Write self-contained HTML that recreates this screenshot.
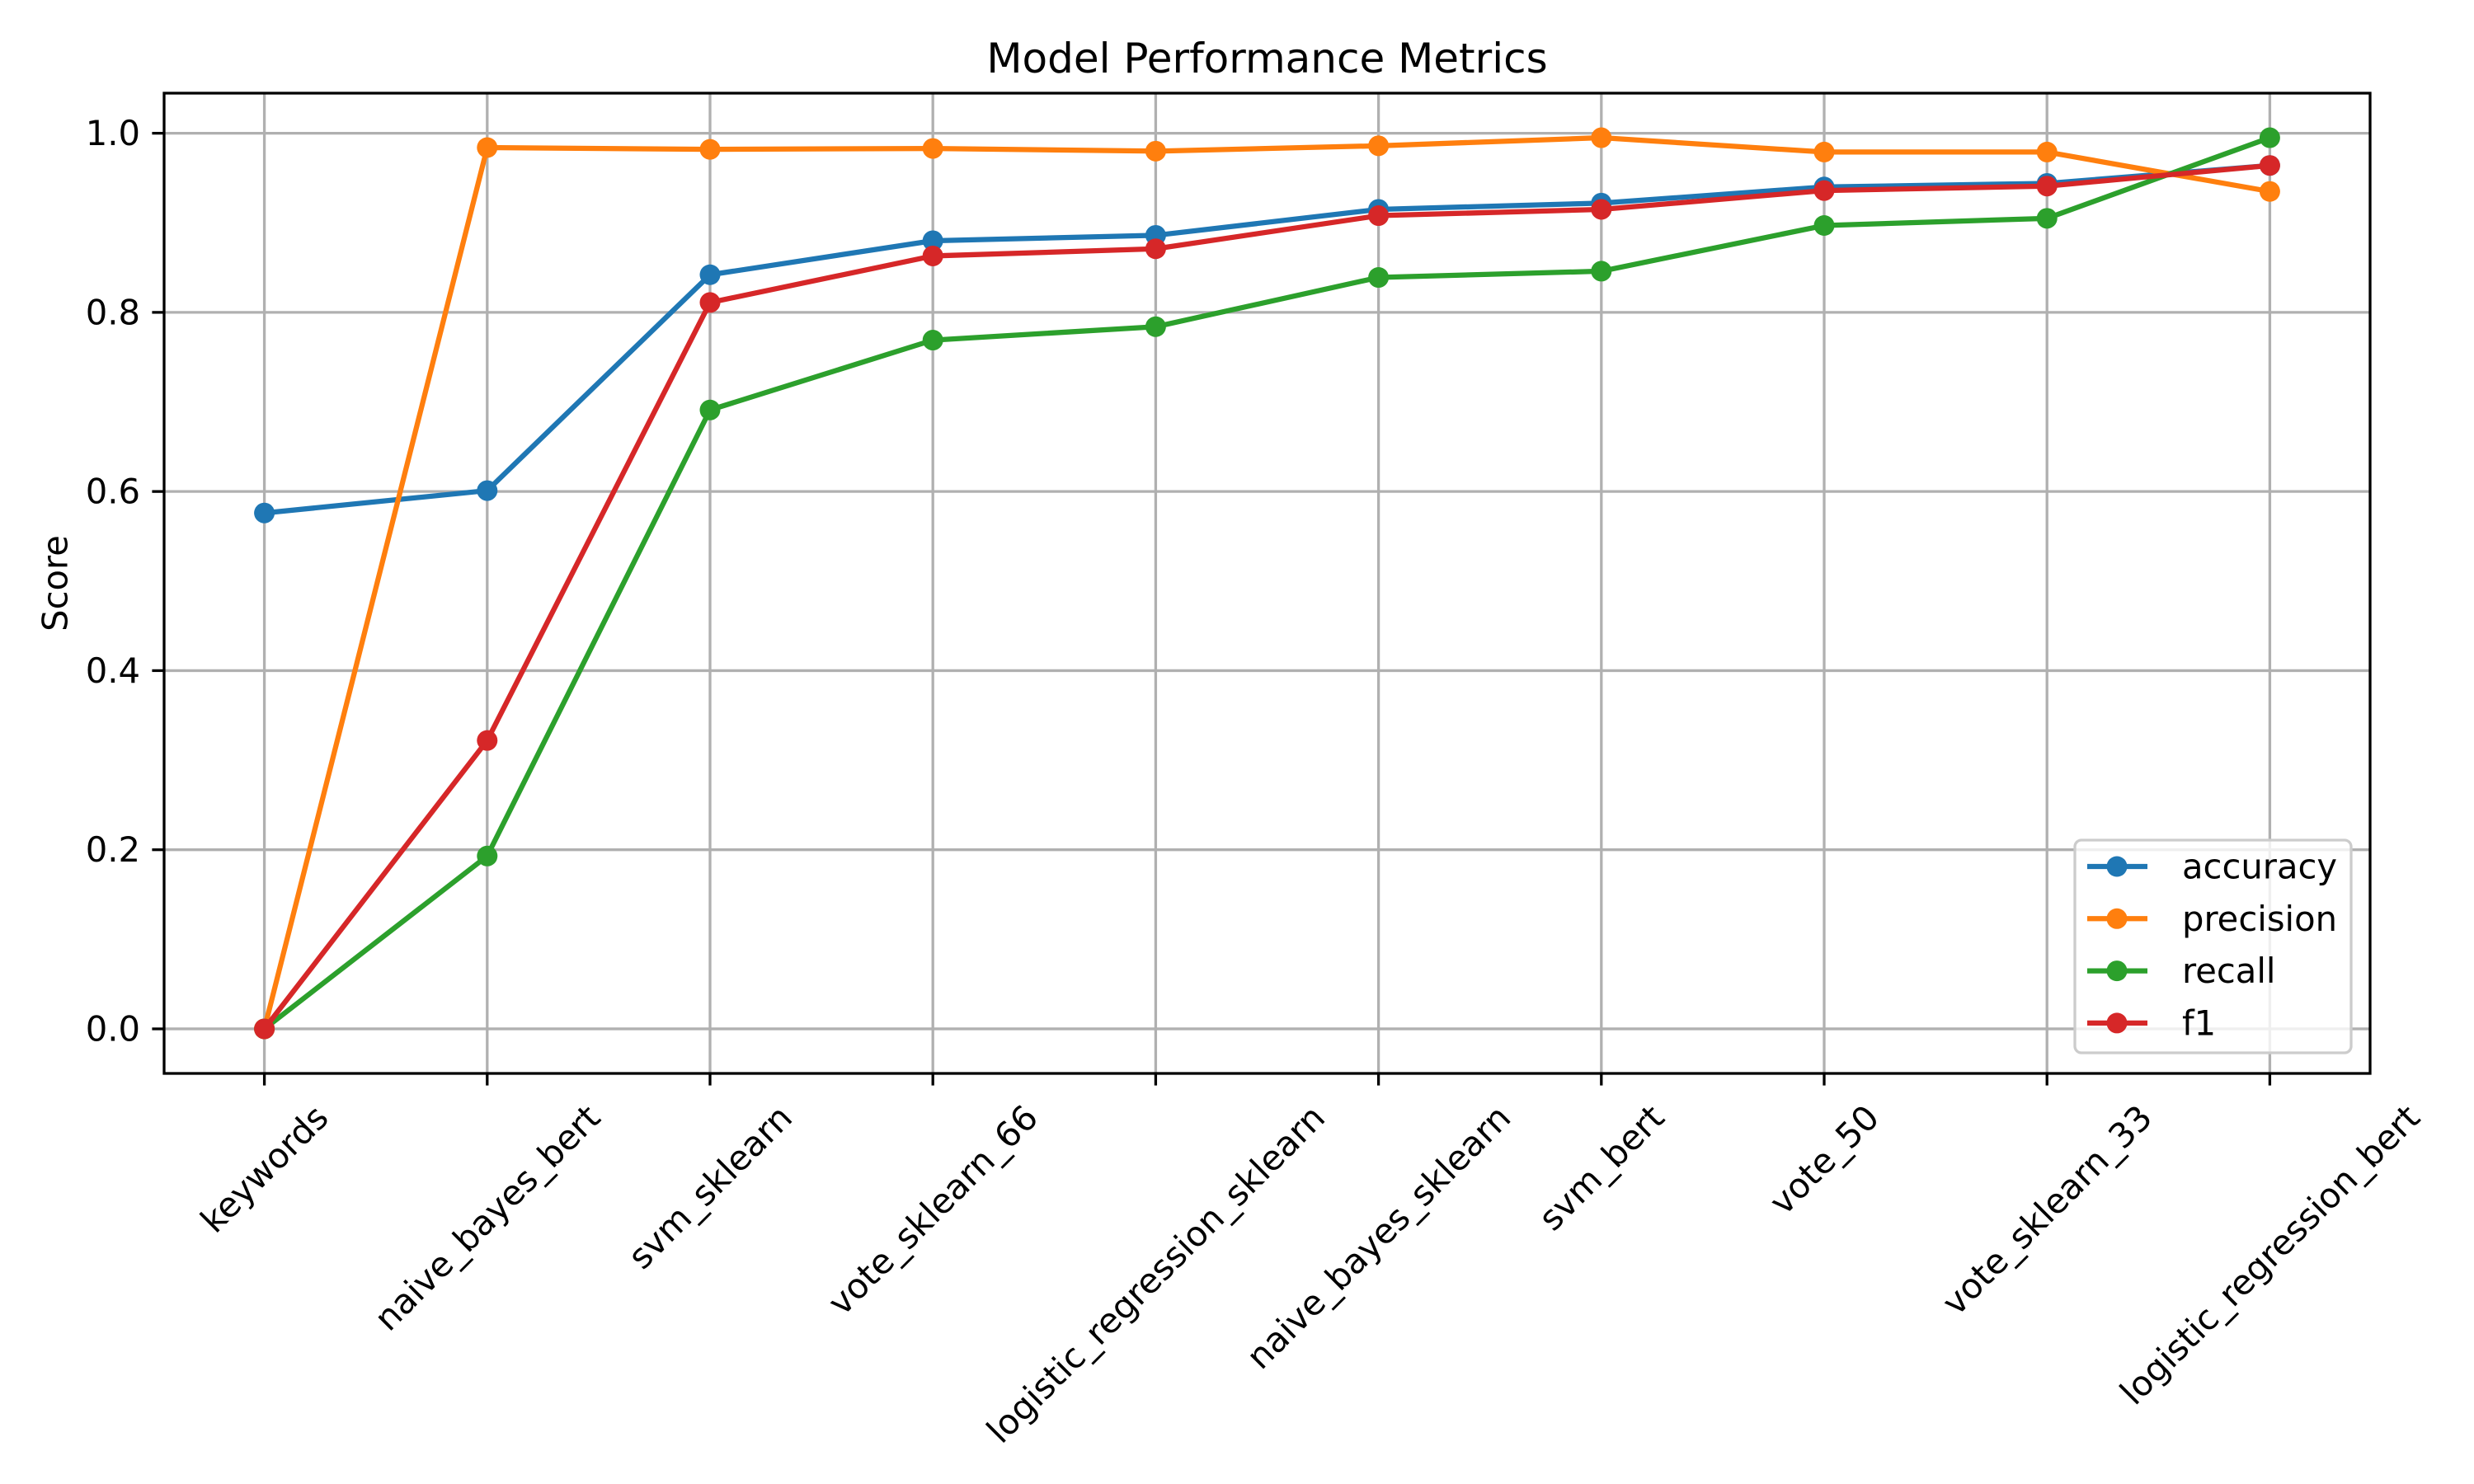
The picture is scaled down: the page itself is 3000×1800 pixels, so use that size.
<!DOCTYPE html>
<html><head><meta charset="utf-8"><style>
html,body{margin:0;padding:0;background:#fff;}
svg{display:block;font-family:"DejaVu Sans","Liberation Sans",sans-serif;}
</style></head><body>
<svg id="chart" width="3000" height="1800" viewBox="0 0 3000 1800" xmlns="http://www.w3.org/2000/svg">
<rect width="3000" height="1800" fill="#fff"/>
<g id="grid"></g><g id="series"></g><g id="axes"></g><g id="legend"></g>
</svg>
<script>
const categories = ["keywords","naive_bayes_bert","svm_sklearn","vote_sklearn_66","logistic_regression_sklearn","naive_bayes_sklearn","svm_bert","vote_50","vote_sklearn_33","logistic_regression_bert"];
const accuracy = [0.576,0.601,0.842,0.880,0.886,0.915,0.922,0.940,0.944,0.964];
const precision = [0,0.984,0.982,0.983,0.980,0.986,0.995,0.979,0.979,0.935];
const recall = [0,0.193,0.691,0.769,0.784,0.839,0.846,0.897,0.905,0.995];
const f1 = [0,0.322,0.811,0.863,0.871,0.908,0.915,0.936,0.941,0.964];
const seriesNames = ["accuracy","precision","recall","f1"];
const yTicks = [0.0,0.2,0.4,0.6,0.8,1.0];
const yTickLabels = ["0.0","0.2","0.4","0.6","0.8","1.0"];

const NS="http://www.w3.org/2000/svg";
const L=199,R=2874,T=113,B=1302;
const YMIN=-0.04975,YMAX=1.04475;
const colors=["#1f77b4","#ff7f0e","#2ca02c","#d62728"];
const data=[accuracy,precision,recall,f1];
const n=categories.length;
function xs(i){return L+(i+0.45)/(n-1+0.9)*(R-L);}
function ys(v){return B-(v-YMIN)/(YMAX-YMIN)*(B-T);}
function mk(tag,attrs,parent){const e=document.createElementNS(NS,tag);for(const k in attrs)e.setAttribute(k,attrs[k]);parent.appendChild(e);return e;}
const grid=document.getElementById('grid'),axes=document.getElementById('axes'),ser=document.getElementById('series'),leg=document.getElementById('legend');

categories.forEach((c,i)=>{
  const g=mk('line',{x1:xs(i),x2:xs(i),y1:T,y2:B,stroke:'#b0b0b0','stroke-width':3.3},grid);
  
  
  mk('line',{x1:xs(i),x2:xs(i),y1:B,y2:B+14.6,stroke:'#000','stroke-width':3.3},axes);
  const t=mk('text',{'font-size':41.7,'text-anchor':'middle','dominant-baseline':'central',fill:'#000'},axes);
  t.textContent=c;
  
  
  const w=t.getComputedTextLength(),h=48;
  const bh=(w+h)*0.7071;
  const cx=xs(i),cy=B+29+bh/2;
  t.setAttribute('x',cx);t.setAttribute('y',cy);
  t.setAttribute('transform',`rotate(-45 ${cx} ${cy})`);
});
yTicks.forEach((v,i)=>{
  const g=mk('line',{x1:L,x2:R,y1:ys(v),y2:ys(v),stroke:'#b0b0b0','stroke-width':3.3},grid);
  
  
  mk('line',{x1:L-14.6,x2:L,y1:ys(v),y2:ys(v),stroke:'#000','stroke-width':3.3},axes);
  const t=mk('text',{x:L-29,y:ys(v),'font-size':41.7,'text-anchor':'end','dominant-baseline':'central',fill:'#000'},axes);
  t.textContent=yTickLabels[i];
  
  
});
const frame=mk('rect',{x:L,y:T,width:R-L,height:B-T,fill:'none',stroke:'#000','stroke-width':3.3},axes);


const yl=mk('text',{x:67,y:(T+B)/2,'font-size':41.7,'text-anchor':'middle','dominant-baseline':'central',transform:`rotate(-90 67 ${(T+B)/2})`},axes);
yl.textContent='Score';


const ti=mk('text',{x:(L+R)/2,y:71,'font-size':50,'text-anchor':'middle','dominant-baseline':'central'},axes);
ti.textContent='Model Performance Metrics';



data.forEach((arr,s)=>{
  const g=mk('g',{},ser);
  
  
  const pl=mk('polyline',{points:arr.map((v,i)=>xs(i)+','+ys(v)).join(' '),fill:'none',stroke:colors[s],'stroke-width':6.25,'stroke-linejoin':'round'},g);
  
  
  arr.forEach((v,i)=>{
    const c=mk('circle',{cx:xs(i),cy:ys(v),r:12.5,fill:colors[s]},g);
    
    
  });
});

const box=mk('rect',{x:2516,y:1019,width:335,height:258,rx:8,fill:'#fff','fill-opacity':0.8,stroke:'#ccc','stroke-width':3.3},leg);


seriesNames.forEach((nm,s)=>{
  const y=1051+s*63.3;
  const g=mk('g',{},leg);
  
  
  mk('line',{x1:2531,x2:2604,y1:y,y2:y,stroke:colors[s],'stroke-width':6.25},g);
  mk('circle',{cx:2567,cy:y,r:12.5,fill:colors[s]},g);
  const t=mk('text',{x:2646,y:y,'font-size':41.7,'dominant-baseline':'central'},g);
  t.textContent=nm;
});
</script>
</body></html>
